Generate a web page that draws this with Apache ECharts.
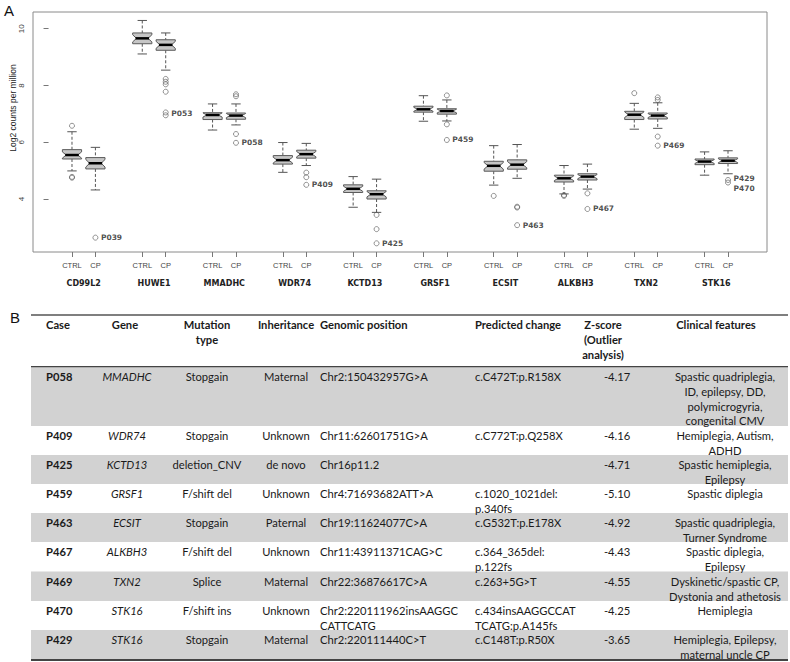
<!DOCTYPE html>
<html><head><meta charset="utf-8">
<script src="https://cdn.jsdelivr.net/npm/echarts@6/dist/echarts.min.js"></script>
<style>html,body{margin:0;padding:0;background:#fff}#c{width:790px;height:662px}</style>
</head><body><div id="c"></div>
<script>
// ---------- Panel A data ----------
const genes = ['CD99L2','HUWE1','MMADHC','WDR74','KCTD13','GRSF1','ECSIT','ALKBH3','TXN2','STK16'];
const groupLabels = ['CTRL','CP'];
// [lower whisker, Q1, median, Q3, upper whisker]
const ctrlStats = [
  [4.99,5.41,5.55,5.74,6.37],
  [9.11,9.47,9.66,9.85,10.29],
  [6.43,6.80,6.96,7.04,7.35],
  [4.94,5.23,5.37,5.53,5.99],
  [3.71,4.23,4.36,4.50,4.79],
  [6.74,7.06,7.16,7.27,7.64],
  [4.49,4.98,5.17,5.33,5.88],
  [4.18,4.60,4.73,4.84,5.18],
  [6.46,6.80,6.97,7.09,7.37],
  [4.84,5.21,5.32,5.41,5.66]
];
const cpStats = [
  [4.32,5.06,5.26,5.46,5.82],
  [8.54,9.24,9.43,9.61,9.85],
  [6.61,6.81,6.94,7.03,7.35],
  [5.18,5.44,5.58,5.72,5.96],
  [3.53,4.00,4.17,4.29,4.70],
  [6.75,6.99,7.10,7.18,7.49],
  [4.73,5.05,5.21,5.38,5.92],
  [4.35,4.67,4.79,4.89,5.23],
  [6.49,6.82,6.94,7.03,7.39],
  [4.89,5.25,5.35,5.45,5.70]
];
const ctrlOutliers = [
  [6.58,4.75,4.78],
  [],
  [],
  [],
  [],
  [],
  [4.11],
  [4.11,4.14],
  [7.73],
  []
];
const cpOutliers = [
  [2.64],
  [8.23,8.13,8.04,7.78,7.05,6.95],
  [7.69,7.62,6.29,5.98],
  [4.93,4.77,4.50],
  [3.44,2.94,2.44],
  [7.65,6.63,6.08],
  [3.73,3.70,3.08],
  [4.20,3.65],
  [7.58,7.49,6.20,5.88],
  [4.67,4.58]
];
const outlierLabelGenes = ['CD99L2','HUWE1','MMADHC','WDR74','KCTD13','GRSF1','ECSIT','ALKBH3','TXN2','STK16'];
const outlierLabelValues = [2.64,7.0,5.98,4.50,2.44,6.08,3.08,3.65,5.88,4.53];
const outlierLabels = ['P039','P053','P058','P409','P425','P459','P463','P467','P469','P429\nP470'];
const yTicks = [4,6,8,10];
const yTitle = 'Log2 counts per million';

// ---------- Panel B data ----------
const tableHeaders = ['Case','Gene','Mutation\ntype','Inheritance','Genomic position','Predicted change','Z-score\n(Outlier\nanalysis)','Clinical features'];
const caseIds = ['P058','P409','P425','P459','P463','P467','P469','P470','P429'];
const rowGenes = ['MMADHC','WDR74','KCTD13','GRSF1','ECSIT','ALKBH3','TXN2','STK16','STK16'];
const mutationTypes = ['Stopgain','Stopgain','deletion_CNV','F/shift del','Stopgain','F/shift del','Splice','F/shift ins','Stopgain'];
const inheritance = ['Maternal','Unknown','de novo','Unknown','Paternal','Unknown','Maternal','Unknown','Maternal'];
const genomicPositions = ['Chr2:150432957G>A','Chr11:62601751G>A','Chr16p11.2','Chr4:71693682ATT>A','Chr19:11624077C>A','Chr11:43911371CAG>C','Chr22:36876617C>A','Chr2:220111962insAAGGC\nCATTCATG','Chr2:220111440C>T'];
const predictedChanges = ['c.C472T:p.R158X','c.C772T:p.Q258X','','c.1020_1021del:\np.340fs','c.G532T:p.E178X','c.364_365del:\np.122fs','c.263+5G>T','c.434insAAGGCCAT\nTCATG:p.A145fs','c.C148T:p.R50X'];
const zScores = [-4.17,-4.16,-4.71,-5.10,-4.92,-4.43,-4.55,-4.25,-3.65];
const clinicalFeatures = ['Spastic quadriplegia,\nID, epilepsy, DD,\npolymicrogyria,\ncongenital CMV','Hemiplegia, Autism,\nADHD','Spastic hemiplegia,\nEpilepsy','Spastic diplegia','Spastic quadriplegia,\nTurner Syndrome','Spastic diplegia,\nEpilepsy','Dyskinetic/spastic CP,\nDystonia and athetosis','Hemiplegia','Hemiplegia, Epilepsy,\nmaternal uncle CP'];

// ---------- layout / style ----------
const GROUP_STEP = 3;
const BOX_HALF = 0.41, CAP_HALF = 0.2, NOTCH_FRAC = 0.33, WAIST = 0.6;
const PLOT_FONT = 'Liberation Sans, Arial, sans-serif';
const LABEL_FONT = 'DejaVu Sans, Verdana, sans-serif';
const TABLE_FONT = 'Lato, Carlito, sans-serif';
const TABLE_SIZE = 11.2;

const ctrlPos = i => 1 + GROUP_STEP * i;
const cpPos = i => 2 + GROUP_STEP * i;

const boxData = [];
genes.forEach((g, i) => {
  boxData.push([ctrlPos(i)].concat(ctrlStats[i]));
  boxData.push([cpPos(i)].concat(cpStats[i]));
});
const outlierData = [];
genes.forEach((g, i) => {
  ctrlOutliers[i].forEach(v => outlierData.push([ctrlPos(i), v]));
  cpOutliers[i].forEach(v => outlierData.push([cpPos(i), v]));
});
const labelData = outlierLabels.map((t, k) => ({
  name: t,
  value: [cpPos(genes.indexOf(outlierLabelGenes[k])), outlierLabelValues[k]]
}));
const tickPositions = [];
genes.forEach((g, i) => { tickPositions.push(ctrlPos(i), cpPos(i)); });
const genePositions = genes.map((g, i) => (ctrlPos(i) + cpPos(i)) / 2);

function renderBox(params, api) {
  const x = api.value(0);
  const p = k => api.coord([x, api.value(k)]);
  const lo = p(1), q1 = p(2), md = p(3), q3 = p(4), hi = p(5);
  const hw = api.size([BOX_HALF, 0])[0];
  const cw = api.size([CAP_HALF, 0])[0];
  const cx = lo[0];
  const top = q3[1], bot = q1[1], m = md[1];
  let nh = NOTCH_FRAC * (bot - top);
  nh = Math.min(nh, (m - top) * 0.92, (bot - m) * 0.92);
  const ind = hw * (1 - WAIST);
  const wl = { stroke: '#555', lineWidth: 1, lineDash: [3, 2] };
  const sl = { stroke: '#555', lineWidth: 1 };
  return {
    type: 'group',
    children: [
      { type: 'line', shape: { x1: cx, y1: hi[1], x2: cx, y2: top }, style: wl },
      { type: 'line', shape: { x1: cx, y1: bot, x2: cx, y2: lo[1] }, style: wl },
      { type: 'line', shape: { x1: cx - cw, y1: hi[1], x2: cx + cw, y2: hi[1] }, style: sl },
      { type: 'line', shape: { x1: cx - cw, y1: lo[1], x2: cx + cw, y2: lo[1] }, style: sl },
      { type: 'polygon', shape: { points: [
          [cx - hw, top], [cx + hw, top], [cx + hw, m - nh], [cx + hw - ind, m], [cx + hw, m + nh],
          [cx + hw, bot], [cx - hw, bot], [cx - hw, m + nh], [cx - hw + ind, m], [cx - hw, m - nh]
        ] }, style: { fill: '#c6c6c6', stroke: '#5a5a5a', lineWidth: 1 } },
      { type: 'line', shape: { x1: cx - hw + ind - 1, y1: m, x2: cx + hw - ind + 1, y2: m }, style: { stroke: '#000', lineWidth: 2.5 } }
    ]
  };
}

// ---------- table graphics ----------
const TABLE_LEFT = 31, TABLE_RIGHT = 788;
const HEADER_TOP = 315, HEADER_BOTTOM = 366.7;
const rowTops = [366.7, 426, 455, 484, 513, 542, 571.5, 601, 630];
const TABLE_BOTTOM = 659.5;
const LINE_H = 14.8, FIRST_OFF = 9.8;
const headerX = [46, 125, 207, 286, 320, 475, 603, 716];
const headerAlign = ['left','center','center','center','left','left','center','center'];
const cellX = [46, 127, 207, 286, 320, 475, 617, 725];
const cellAlign = ['left','center','center','center','left','left','center','center'];
const TXT = '#1a1a1a';

const graphics = [];
function addText(str, x, y, align, opts) {
  str.split('\n').forEach((line, j) => {
    graphics.push({
      type: 'text', silent: true, x: x, y: y + j * LINE_H,
      style: Object.assign({ text: line, fill: TXT, fontFamily: TABLE_FONT, fontSize: TABLE_SIZE, align: align, verticalAlign: 'middle' }, opts || {})
    });
  });
}
rowTops.forEach((t, r) => {
  const b = r + 1 < rowTops.length ? rowTops[r + 1] : TABLE_BOTTOM;
  if (r % 2 === 0) graphics.push({ type: 'rect', silent: true, shape: { x: TABLE_LEFT, y: t, width: TABLE_RIGHT - TABLE_LEFT, height: b - t }, style: { fill: '#d2d2d2' } });
});
graphics.push({ type: 'line', silent: true, shape: { x1: TABLE_LEFT, y1: HEADER_TOP, x2: TABLE_RIGHT, y2: HEADER_TOP }, style: { stroke: '#555', lineWidth: 1.5 } });
graphics.push({ type: 'line', silent: true, shape: { x1: TABLE_LEFT, y1: HEADER_BOTTOM, x2: TABLE_RIGHT, y2: HEADER_BOTTOM }, style: { stroke: '#444', lineWidth: 1.2 } });
graphics.push({ type: 'line', silent: true, shape: { x1: TABLE_LEFT, y1: TABLE_BOTTOM + 0.5, x2: TABLE_RIGHT, y2: TABLE_BOTTOM + 0.5 }, style: { stroke: '#444', lineWidth: 2 } });
tableHeaders.forEach((h, c) => addText(h, headerX[c], HEADER_TOP + FIRST_OFF, headerAlign[c], { fontWeight: 'bold' }));
const columns = [caseIds, rowGenes, mutationTypes, inheritance, genomicPositions, predictedChanges, zScores.map(z => z.toFixed(2)), clinicalFeatures];
rowTops.forEach((t, r) => {
  columns.forEach((col, c) => {
    const opts = c === 0 ? { fontWeight: 'bold' } : (c === 1 ? { fontStyle: 'italic' } : {});
    if (col[r] !== '') addText(String(col[r]), cellX[c], t + FIRST_OFF, cellAlign[c], opts);
  });
});
graphics.push({ type: 'text', silent: true, x: 9, y: 10, style: { text: 'A', fill: '#111', fontFamily: PLOT_FONT, fontSize: 15, align: 'center', verticalAlign: 'middle' } });
graphics.push({ type: 'text', silent: true, x: 15, y: 317, style: { text: 'B', fill: '#111', fontFamily: PLOT_FONT, fontSize: 15, align: 'center', verticalAlign: 'middle' } });
graphics.push({ type: 'text', silent: true, x: 13, y: 108, rotation: Math.PI / 2, style: { text: yTitle, fill: '#222', fontFamily: PLOT_FONT, fontSize: 8.5, align: 'center', verticalAlign: 'middle' } });

const chart = echarts.init(document.getElementById('c'), null, { renderer: 'svg' });
chart.setOption({
  animation: false,
  backgroundColor: '#fff',
  grid: { left: 33, top: 12, width: 734, height: 240, show: true, borderColor: '#8a8a8a', borderWidth: 1, containLabel: false },
  xAxis: [
    {
      type: 'value', min: -0.664, max: 30.664, position: 'bottom',
      axisLine: { show: false }, splitLine: { show: false },
      axisTick: { show: true, customValues: tickPositions, length: 5, lineStyle: { color: '#777' } },
      axisLabel: { show: true, customValues: tickPositions, margin: 9, fontSize: 7.5, color: '#444', fontFamily: PLOT_FONT,
        formatter: v => groupLabels[Math.round(v - 1) % GROUP_STEP] }
    },
    {
      type: 'value', min: -0.664, max: 30.664, position: 'bottom',
      axisLine: { show: false }, splitLine: { show: false }, axisTick: { show: false },
      axisLabel: { show: true, customValues: genePositions, margin: 27, fontSize: 8, color: '#222', fontFamily: LABEL_FONT, fontWeight: 'bold',
        formatter: v => genes[Math.round((v - 1.5) / GROUP_STEP)] }
    }
  ],
  yAxis: {
    type: 'value', min: 2.134, max: 10.588,
    axisLine: { show: false }, splitLine: { show: false },
    axisTick: { show: true, customValues: yTicks, length: 5, lineStyle: { color: '#777' } },
    axisLabel: { show: true, customValues: yTicks, rotate: 90, margin: 8, fontSize: 8, color: '#444', fontFamily: PLOT_FONT }
  },
  series: [
    { type: 'custom', xAxisIndex: 0, renderItem: renderBox, data: boxData, encode: { x: 0, y: [1, 2, 3, 4, 5] }, silent: true, z: 2 },
    { type: 'scatter', xAxisIndex: 0, data: outlierData, symbol: 'circle', symbolSize: 5, silent: true, z: 3,
      itemStyle: { color: 'rgba(255,255,255,0)', borderColor: '#555', borderWidth: 0.8 } },
    { type: 'scatter', xAxisIndex: 0, data: labelData, symbol: 'circle', symbolSize: 1, silent: true, z: 4,
      itemStyle: { color: 'rgba(255,255,255,0)' },
      label: { show: true, position: 'right', distance: 5, formatter: p => p.name, fontFamily: LABEL_FONT, fontWeight: 'bold', fontSize: 7.5, color: '#222', lineHeight: 10 } }
  ],
  graphic: graphics
});
</script>
</body></html>
